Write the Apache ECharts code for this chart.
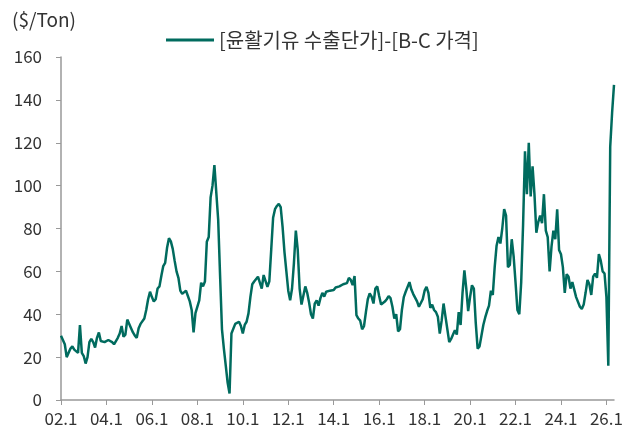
<!DOCTYPE html>
<html>
<head>
<meta charset="utf-8">
<script src="https://cdn.jsdelivr.net/npm/echarts@6/dist/echarts.min.js"></script>
<style>
  html, body { margin: 0; padding: 0; background: #fff; }
  #chart { width: 635px; height: 432px; }
</style>
</head>
<body>
<div id="chart"></div>
<script>
// monthly spread, 2002.1 ~ 2026.5
var startYear = 2002;
var seriesName = '[윤활기유 수출단가]-[B-C 가격]';
var spread = [
    30, 29.5, 26, 20, 19.5, 24, 25, 23.5, 23.5, 22, 35, 22,
    20.5, 17, 20, 27, 28.5, 27, 24.5, 29, 31.5, 27.5, 27.5, 27,
    27.5, 28, 28, 27, 26, 27.5, 29, 31, 34.5, 29.5, 30.5, 37.5,
    38, 33.5, 31.5, 30, 29, 33.5, 35.5, 35, 38, 42, 47, 50.5,
    48, 46, 47, 52, 53, 58, 62.5, 64, 71, 75.5, 74, 70.5,
    65, 60, 57, 51, 49.5, 49.4, 51, 48.5, 46, 42, 31.5, 40.5,
    41, 46.5, 54.7, 53, 55.3, 73.8, 76, 94.5, 100, 109.6, 109.6, 84,
    58, 33, 24, 16, 8, 3, 31, 31.5, 35.5, 35, 36.5, 34.5,
    31, 35, 36.5, 40.4, 48, 54, 55.3, 54.7, 57.5, 56.8, 52, 58.3,
    59, 52.8, 55.3, 70, 85, 89, 90.5, 91.5, 90, 80.8, 69, 60,
    51, 46.5, 52, 64, 79, 70, 52, 44.5, 45, 53, 50, 45.5,
    40, 38, 45, 46.5, 44, 47.5, 50, 48.2, 50.5, 50.5, 51, 50.7,
    51.3, 52.5, 52, 53, 52.8, 54, 53.5, 54.5, 57, 56, 53.6, 57.8,
    39.6, 38, 37, 33, 34.5, 41, 47, 49.7, 48.2, 45, 52, 53,
    48.5, 44.5, 45, 45.9, 47, 48.5, 47.5, 43.5, 38, 40, 32, 33,
    42, 48, 50.5, 50.5, 55, 51.5, 49.4, 48.5, 46, 43.5, 43.2, 47,
    51, 52.8, 50, 43, 44.5, 42, 41, 38.8, 31, 37, 45, 39,
    33, 27, 28.5, 30.5, 32.5, 30.5, 41, 35, 49.7, 60.5, 52, 41.5,
    48, 53.5, 52, 36, 24, 25, 30, 35, 38.5, 41.5, 44, 51,
    49, 62, 72, 76, 73, 80, 89, 86, 62, 63, 75, 67,
    55, 42, 40, 55, 82, 116, 96, 120, 95, 109, 96, 78,
    83, 86, 82.5, 96, 79, 76, 60, 71.5, 79, 75, 89, 70,
    68, 62, 50, 58.7, 57.5, 52, 55, 55, 48, 47.5, 43.5, 42.5,
    44.5, 50, 56, 54, 49, 57.5, 59, 57, 68, 65, 60, 59,
    48, 16, 118, 134, 147
];
var yTicks = [0, 20, 40, 60, 80, 100, 120, 140, 160];

var months = spread.map(function (v, i) {
    var y = startYear + Math.floor(i / 12);
    var m = i % 12 + 1;
    return String(y % 100).padStart(2, '0') + '.' + m;
});

var font = '"Noto Sans CJK KR", "Noto Sans", sans-serif';
var e = echarts.init(document.getElementById('chart'));
e.setOption({
    animation: false,
    textStyle: {fontFamily: font},
    title: {
        text: '($/Ton)',
        left: 7,
        top: 5,
        textStyle: {fontSize: 19, fontWeight: 'normal', color: '#333', fontFamily: font}
    },
    legend: {
        data: [seriesName],
        left: 161,
        top: 25,
        icon: 'rect',
        itemWidth: 48,
        itemHeight: 3,
        itemGap: 6,
        textStyle: {fontSize: 20, color: '#333', fontFamily: font}
    },
    grid: {left: 61, right: 21, top: 57, bottom: 32, containLabel: false},
    xAxis: {
        type: 'category',
        data: months,
        boundaryGap: false,
        axisLine: {lineStyle: {color: '#999', width: 1.5}},
        axisTick: {interval: 23, length: 5, lineStyle: {color: '#999'}},
        axisLabel: {interval: 23, color: '#333', fontSize: 17, margin: 10, fontFamily: font},
        splitLine: {show: false}
    },
    yAxis: {
        type: 'value',
        min: yTicks[0],
        max: yTicks[yTicks.length - 1],
        interval: 20,
        axisLine: {show: true, lineStyle: {color: '#999', width: 1.5}},
        axisTick: {show: true, length: 5, lineStyle: {color: '#999'}},
        axisLabel: {color: '#333', fontSize: 17, margin: 19, fontFamily: font},
        splitLine: {show: false}
    },
    series: [{
        name: seriesName,
        type: 'line',
        data: spread,
        symbol: 'none',
        lineStyle: {color: '#006B5E', width: 2.5},
        itemStyle: {color: '#006B5E'}
    }]
});
</script>
</body>
</html>
